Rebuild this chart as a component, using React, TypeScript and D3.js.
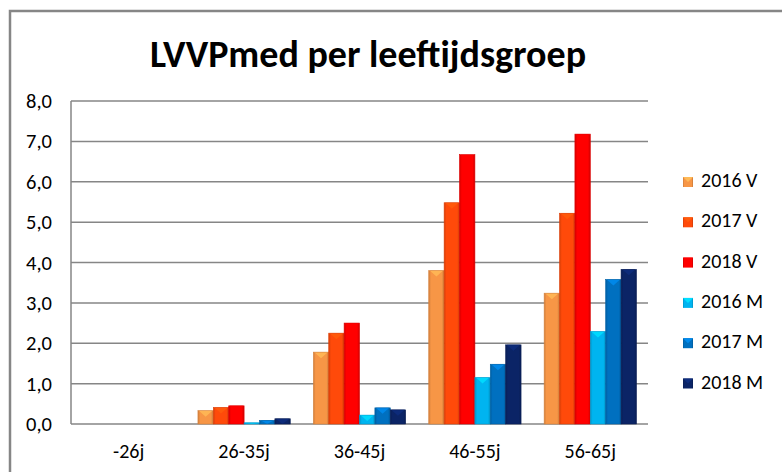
import * as d3 from "d3";
import React from "react";

const groups = ["-26j", "26-35j", "36-45j", "46-55j", "56-65j"];
const seriesNames = ["2016 V", "2017 V", "2018 V", "2016 M", "2017 M", "2018 M"];
const seriesColors = ["#F79646", "#FF4A0A", "#FF0000", "#00B4F0", "#0070C0", "#0B2466"];

const v2016 = [0, 0.33, 1.78, 3.8, 3.24];
const v2017 = [0, 0.41, 2.25, 5.48, 5.22];
const v2018 = [0, 0.45, 2.5, 6.67, 7.18];
const m2016 = [0, 0.03, 0.22, 1.15, 2.29];
const m2017 = [0, 0.09, 0.4, 1.48, 3.58];
const m2018 = [0, 0.13, 0.35, 1.96, 3.83];
const seriesValues = [v2016, v2017, v2018, m2016, m2017, m2018];

const yTicks = [0, 1, 2, 3, 4, 5, 6, 7, 8];

const W = 782;
const H = 472;
const left = 71;
const right = 648;
const top = 101;
const bottom = 424;

const App = () => {
  const x0 = d3.scaleBand().domain(groups).range([left, right]).paddingInner(0.2).paddingOuter(0.1);
  const x1 = d3.scaleBand().domain(seriesNames).range([0, x0.bandwidth()]);
  const y = d3.scaleLinear().domain([0, 8]).range([bottom, top]);
  const fmt = (d) => d.toFixed(1).replace(".", ",");
  const font = "Calibri, Carlito, 'Open Sans', sans-serif";

  return (
    <svg width={W} height={H} style={{ position: "absolute", left: 0, top: 0, background: "#fff" }}>
      <defs>
        {seriesColors.map((c, i) => (
          <linearGradient key={i} id={"g" + i} x1="0" x2="1" y1="0" y2="0">
            <stop offset="0" stopColor={d3.color(c).darker(0.5).toString()} />
            <stop offset="0.15" stopColor={c} />
            <stop offset="0.85" stopColor={c} />
            <stop offset="1" stopColor={d3.color(c).darker(0.6).toString()} />
          </linearGradient>
        ))}
      </defs>
      <rect x={0} y={0} width={W} height={H} fill="#fff" />
      {/* outer chart border */}
      <path d={`M10,${H} V11 H${W}`} fill="none" stroke="#868686" strokeWidth={2.5} />

      <text x={368} y={67} textAnchor="middle" fontFamily={font} fontWeight="bold" fontSize={38} fill="#000">
        LVVPmed per leeftijdsgroep
      </text>

      {yTicks.map((t) => (
        <g key={t}>
          <line x1={left} x2={right} y1={y(t)} y2={y(t)} stroke="#868686" strokeWidth={1.5} />
          <text x={52} y={y(t) + 7} textAnchor="end" fontFamily={font} fontSize={20.5} fill="#000">
            {fmt(t)}
          </text>
        </g>
      ))}
      <line x1={left} x2={left} y1={top} y2={bottom} stroke="#868686" strokeWidth={1.5} />

      {groups.map((g, gi) => (
        <g key={g} transform={`translate(${x0(g)},0)`}>
          {seriesNames.map((s, si) => {
            const v = seriesValues[si][gi];
            if (v <= 0) return null;
            const bx = x1(s);
            const bw = x1.bandwidth();
            const by = y(v);
            const bh = y(0) - by;
            const cap = Math.min(6, bh);
            return (
              <g key={s}>
                <rect x={bx} y={by} width={bw} height={bh} fill={`url(#g${si})`} />
                <path
                  d={`M${bx + 1},${by} L${bx + bw - 1},${by} L${bx + bw / 2},${by + cap} Z`}
                  fill={d3.color(seriesColors[si]).brighter(0.6).toString()}
                  opacity={0.85}
                />
                <rect x={bx} y={by} width={bw} height={bh} fill="none" stroke={d3.color(seriesColors[si]).darker(0.4).toString()} strokeWidth={0.6} />
              </g>
            );
          })}
          <text x={x0.bandwidth() / 2} y={458} textAnchor="middle" fontFamily={font} fontSize={20} fill="#000">
            {g}
          </text>
        </g>
      ))}

      {seriesNames.map((s, i) => {
        const ly = 187 + i * 40.3;
        return (
          <g key={s}>
            <rect x={683} y={ly - 10} width={10} height={10} fill={`url(#g${i})`} />
            <path d={`M683,${ly - 10} L693,${ly - 10} L688,${ly - 5} Z`} fill={d3.color(seriesColors[i]).brighter(0.6).toString()} />
            <text x={701} y={ly} fontFamily={font} fontSize={20} fill="#000">
              {s}
            </text>
          </g>
        );
      })}
    </svg>
  );
};

export default App;
